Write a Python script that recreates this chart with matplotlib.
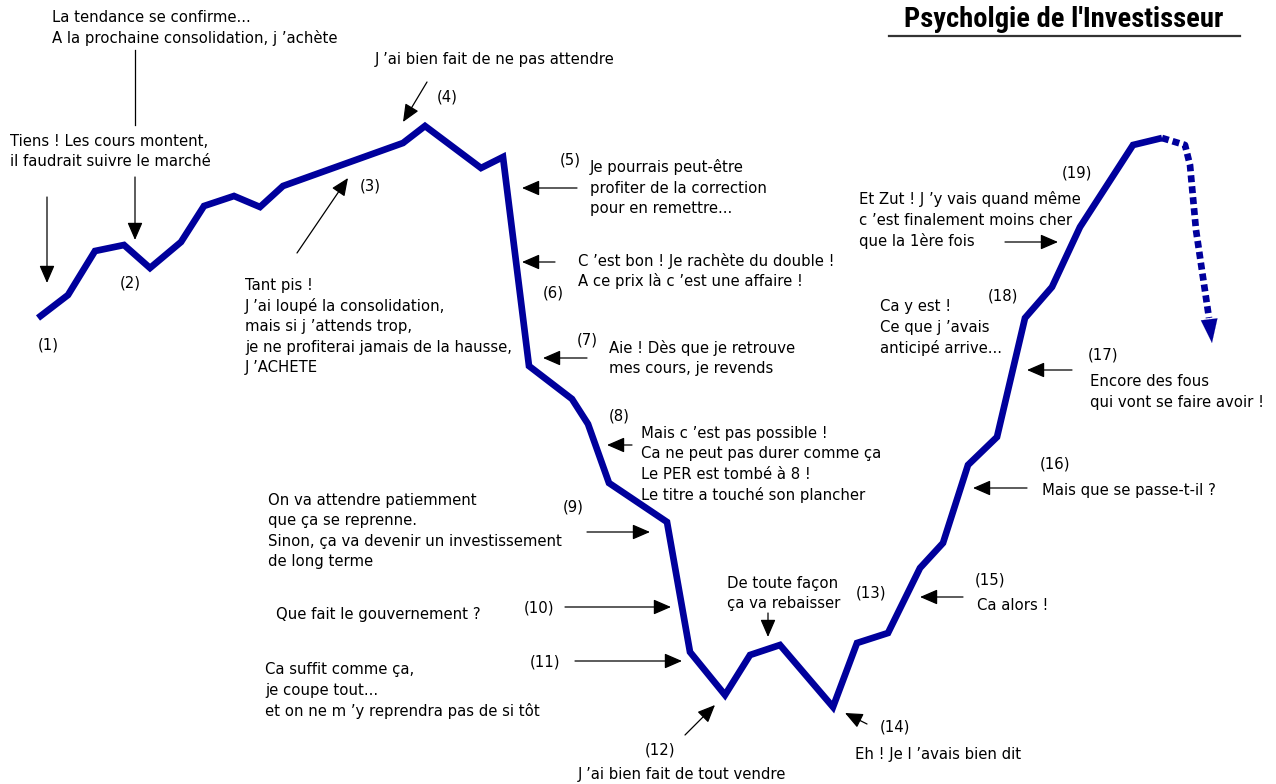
import matplotlib
matplotlib.use("Agg")
import matplotlib.pyplot as plt
from matplotlib import font_manager

# evolution du cours (x = temps, y = niveau du cours)
temps = [38, 68, 95, 124, 150, 181, 204, 234, 260, 283, 403, 425, 481, 503,
         529, 572, 588, 609, 667, 690, 725, 750, 780, 833, 857, 888, 920, 943,
         968, 997, 1025, 1052, 1080, 1133, 1162]
cours = [466, 489, 533, 539, 516, 542, 578, 588, 577, 598, 641, 658, 616, 627,
         418, 385, 360, 301, 262, 132, 89, 129, 139, 77, 141, 151, 216, 241,
         319, 347, 466, 497, 557, 639, 646]

# la suite probable (pointilles)
temps_suite = [1162, 1185, 1190, 1196, 1209, 1212]
cours_suite = [646, 639, 619, 554, 466, 441]

titre = "Psycholgie de l'Investisseur"

# (x, ligne de l'image, texte)
numeros = [
    (38, 345, "(1)"), (120, 283, "(2)"), (360, 186, "(3)"), (437, 97, "(4)"),
    (560, 160, "(5)"), (543, 293, "(6)"), (577, 340, "(7)"), (609, 416, "(8)"),
    (563, 507, "(9)"), (524, 608, "(10)"), (530, 662, "(11)"), (645, 750, "(12)"),
    (856, 593, "(13)"), (880, 727, "(14)"), (975, 580, "(15)"), (1040, 464, "(16)"),
    (1088, 355, "(17)"), (988, 296, "(18)"), (1062, 173, "(19)"),
]

commentaires = [
    (52, 27.5, "La tendance se confirme...\nA la prochaine consolidation, j \u2019achète"),
    (10, 151.5, "Tiens ! Les cours montent,\nil faudrait suivre le marché"),
    (245, 326.5, "Tant pis !\nJ \u2019ai loupé la consolidation,\nmais si j \u2019attends trop,\n"
                 "je ne profiterai jamais de la hausse,\nJ \u2019ACHETE"),
    (375, 59, "J \u2019ai bien fait de ne pas attendre"),
    (590, 188, "Je pourrais peut-être\nprofiter de la correction\npour en remettre..."),
    (578, 271, "C \u2019est bon ! Je rachète du double !\nA ce prix là c \u2019est une affaire !"),
    (609, 358, "Aie ! Dès que je retrouve\nmes cours, je revends"),
    (641, 464, "Mais c \u2019est pas possible !\nCa ne peut pas durer comme ça\n"
               "Le PER est tombé à 8 !\nLe titre a touché son plancher"),
    (268, 531, "On va attendre patiemment\nque ça se reprenne.\n"
               "Sinon, ça va devenir un investissement\nde long terme"),
    (276, 615, "Que fait le gouvernement ?"),
    (265, 690, "Ca suffit comme ça,\nje coupe tout...\net on ne m \u2019y reprendra pas de si tôt"),
    (578, 775, "J \u2019ai bien fait de tout vendre"),
    (727, 593.5, "De toute façon\nça va rebaisser"),
    (855, 755, "Eh ! Je l \u2019avais bien dit"),
    (977, 606, "Ca alors !"),
    (1042, 490, "Mais que se passe-t-il ?"),
    (1090, 392, "Encore des fous\nqui vont se faire avoir !"),
    (880, 327.5, "Ca y est !\nCe que j \u2019avais\nanticipé arrive..."),
    (859, 220, "Et Zut ! J \u2019y vais quand même\nc \u2019est finalement moins cher\nque la 1ère fois"),
]

# fleches : depart (x, ligne) -> pointe (x, ligne)
fleches = [
    (47, 197, 47, 283), (135, 177, 135, 240), (297, 253, 348, 178),
    (427, 82, 403, 122), (577, 188, 522, 188), (555, 262, 522, 262),
    (587, 358, 543, 358), (632, 445, 607, 445), (587, 532, 650, 532),
    (565, 607, 671, 607), (575, 661, 682, 661), (685, 735, 715, 705),
    (768, 613, 768, 637), (867, 724, 845, 713), (963, 597, 920, 597),
    (1027, 488, 973, 488), (1072, 370, 1027, 370), (1005, 242, 1058, 242),
]

H = 784
W = 1276
bleu = "#00009c"
taille = 10.7
pas = 20.6  # interligne en pixels


def pos(x, ligne):
    return x, H - ligne


fig = plt.figure(figsize=(12.76, 7.84), dpi=100)
ax = fig.add_axes([0, 0, 1, 1])
ax.set_xlim(0, W)
ax.set_ylim(0, H)
ax.axis("off")

ax.plot(temps, cours, color=bleu, lw=4.8, solid_joinstyle="miter", solid_capstyle="butt")
ax.plot(temps_suite[:-1], cours_suite[:-1], color=bleu, lw=4.8, dashes=(1.05, 0.6))
ax.annotate("", xy=(temps_suite[-1], cours_suite[-1]),
            xytext=(temps_suite[-2], cours_suite[-2]),
            arrowprops=dict(arrowstyle="-|>,head_length=0.85,head_width=0.3",
                            color=bleu, lw=0.1, shrinkA=0, shrinkB=0, mutation_scale=20))

for x, ligne, txt in numeros:
    ax.text(*pos(x, ligne), txt, fontsize=taille, va="center", ha="left")

# une ligne de texte a la fois pour tenir l'interligne
for x, centre, txt in commentaires:
    lignes = txt.split("\n")
    debut = centre - (len(lignes) - 1) * pas / 2
    for i, l in enumerate(lignes):
        ax.text(*pos(x, debut + i * pas), l, fontsize=taille, va="center", ha="left")

# trait qui part du texte du haut vers (2)
ax.plot(*zip(pos(135, 50), pos(135, 125)), color="black", lw=0.9)
for x0, l0, x1, l1 in fleches:
    ax.annotate("", xy=pos(x1, l1), xytext=pos(x0, l0),
                arrowprops=dict(arrowstyle="-|>,head_length=0.6,head_width=0.26",
                                color="black", lw=0.9, shrinkA=0, shrinkB=0,
                                mutation_scale=18))

# titre souligne, police etroite si disponible
noms = {f.name for f in font_manager.fontManager.ttflist}
police, etire = "DejaVu Sans", "normal"
for nom in ["Roboto Condensed", "Liberation Sans Narrow", "DejaVu Sans Condensed",
            "Open Sans Condensed", "Noto Sans Condensed"]:
    if nom in noms:
        police = nom
        break
else:
    for f in font_manager.fontManager.ttflist:
        if "condensed" in str(f.stretch).lower() or "Condensed" in f.name or "Narrow" in f.name:
            police, etire = f.name, f.stretch
            break
t = ax.text(*pos(1064, 19), titre, fontsize=20, fontweight="bold", family=police,
            fontstretch=etire, ha="center", va="center")
fig.canvas.draw()
largeur = t.get_window_extent().width
t.set_fontsize(min(20.5, 20 * 352 / largeur))
ax.plot(*zip(pos(889, 36), pos(1240, 36)), color="#333333", lw=1.6)

fig.savefig("out.png", dpi=100, facecolor="white")
